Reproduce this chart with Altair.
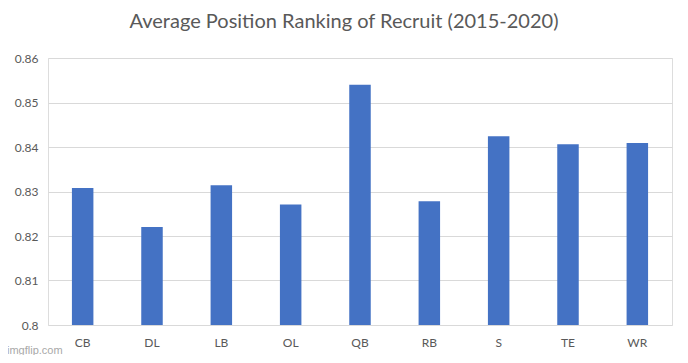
import altair as alt
import pandas as pd

positions = ["CB", "DL", "LB", "OL", "QB", "RB", "S", "TE", "WR"]
values = [0.8308, 0.8220, 0.8314, 0.8271, 0.8540, 0.8278, 0.8424, 0.8406, 0.8409]
y_ticks = [0.80, 0.81, 0.82, 0.83, 0.84, 0.85, 0.86]
y_min, y_max = 0.80, 0.86

df = pd.DataFrame({"position": positions, "value": values})

FONT = "Lato"
W, H = 624, 267

bars = alt.Chart(df).mark_bar(color="#4472C4").encode(
    x=alt.X("position:N", sort=positions,
            scale=alt.Scale(paddingInner=0.69, paddingOuter=0.345),
            axis=alt.Axis(title=None, labelAngle=0, domain=False, ticks=False,
                          labelPadding=12, labelFontSize=12, labelColor="#595959",
                          labelFont=FONT)),
    y=alt.Y("value:Q",
            scale=alt.Scale(domain=[y_min, y_max], zero=False, nice=False),
            axis=alt.Axis(title=None, values=y_ticks, format=".2~f", domain=False,
                          ticks=False, labelPadding=10, labelFontSize=12,
                          labelColor="#595959", labelFont=FONT,
                          gridColor="#d9d9d9", gridWidth=1)),
    y2=alt.datum(y_min),
)

watermark = alt.Chart(pd.DataFrame({"t": ["imgflip.com"]})).mark_text(
    align="left", baseline="middle", fontSize=11, color="#a8a8a8", font="Liberation Sans"
).encode(text="t:N", x=alt.value(-41), y=alt.value(H + 26))

chart = (bars + watermark).properties(
    width=W, height=H,
    autosize=alt.AutoSizeParams(type="none"),
    padding={"left": 40, "top": 50, "right": 8, "bottom": 30},
    title=alt.TitleParams("Average Position Ranking of Recruit (2015-2020)",
                          fontSize=20, font=FONT, fontWeight="normal",
                          color="#595959", offset=20, dx=-16, anchor="middle"),
).configure_view(stroke=None).configure(background="white")

chart.save("out.html", embed_options={"renderer": "svg", "actions": False})
